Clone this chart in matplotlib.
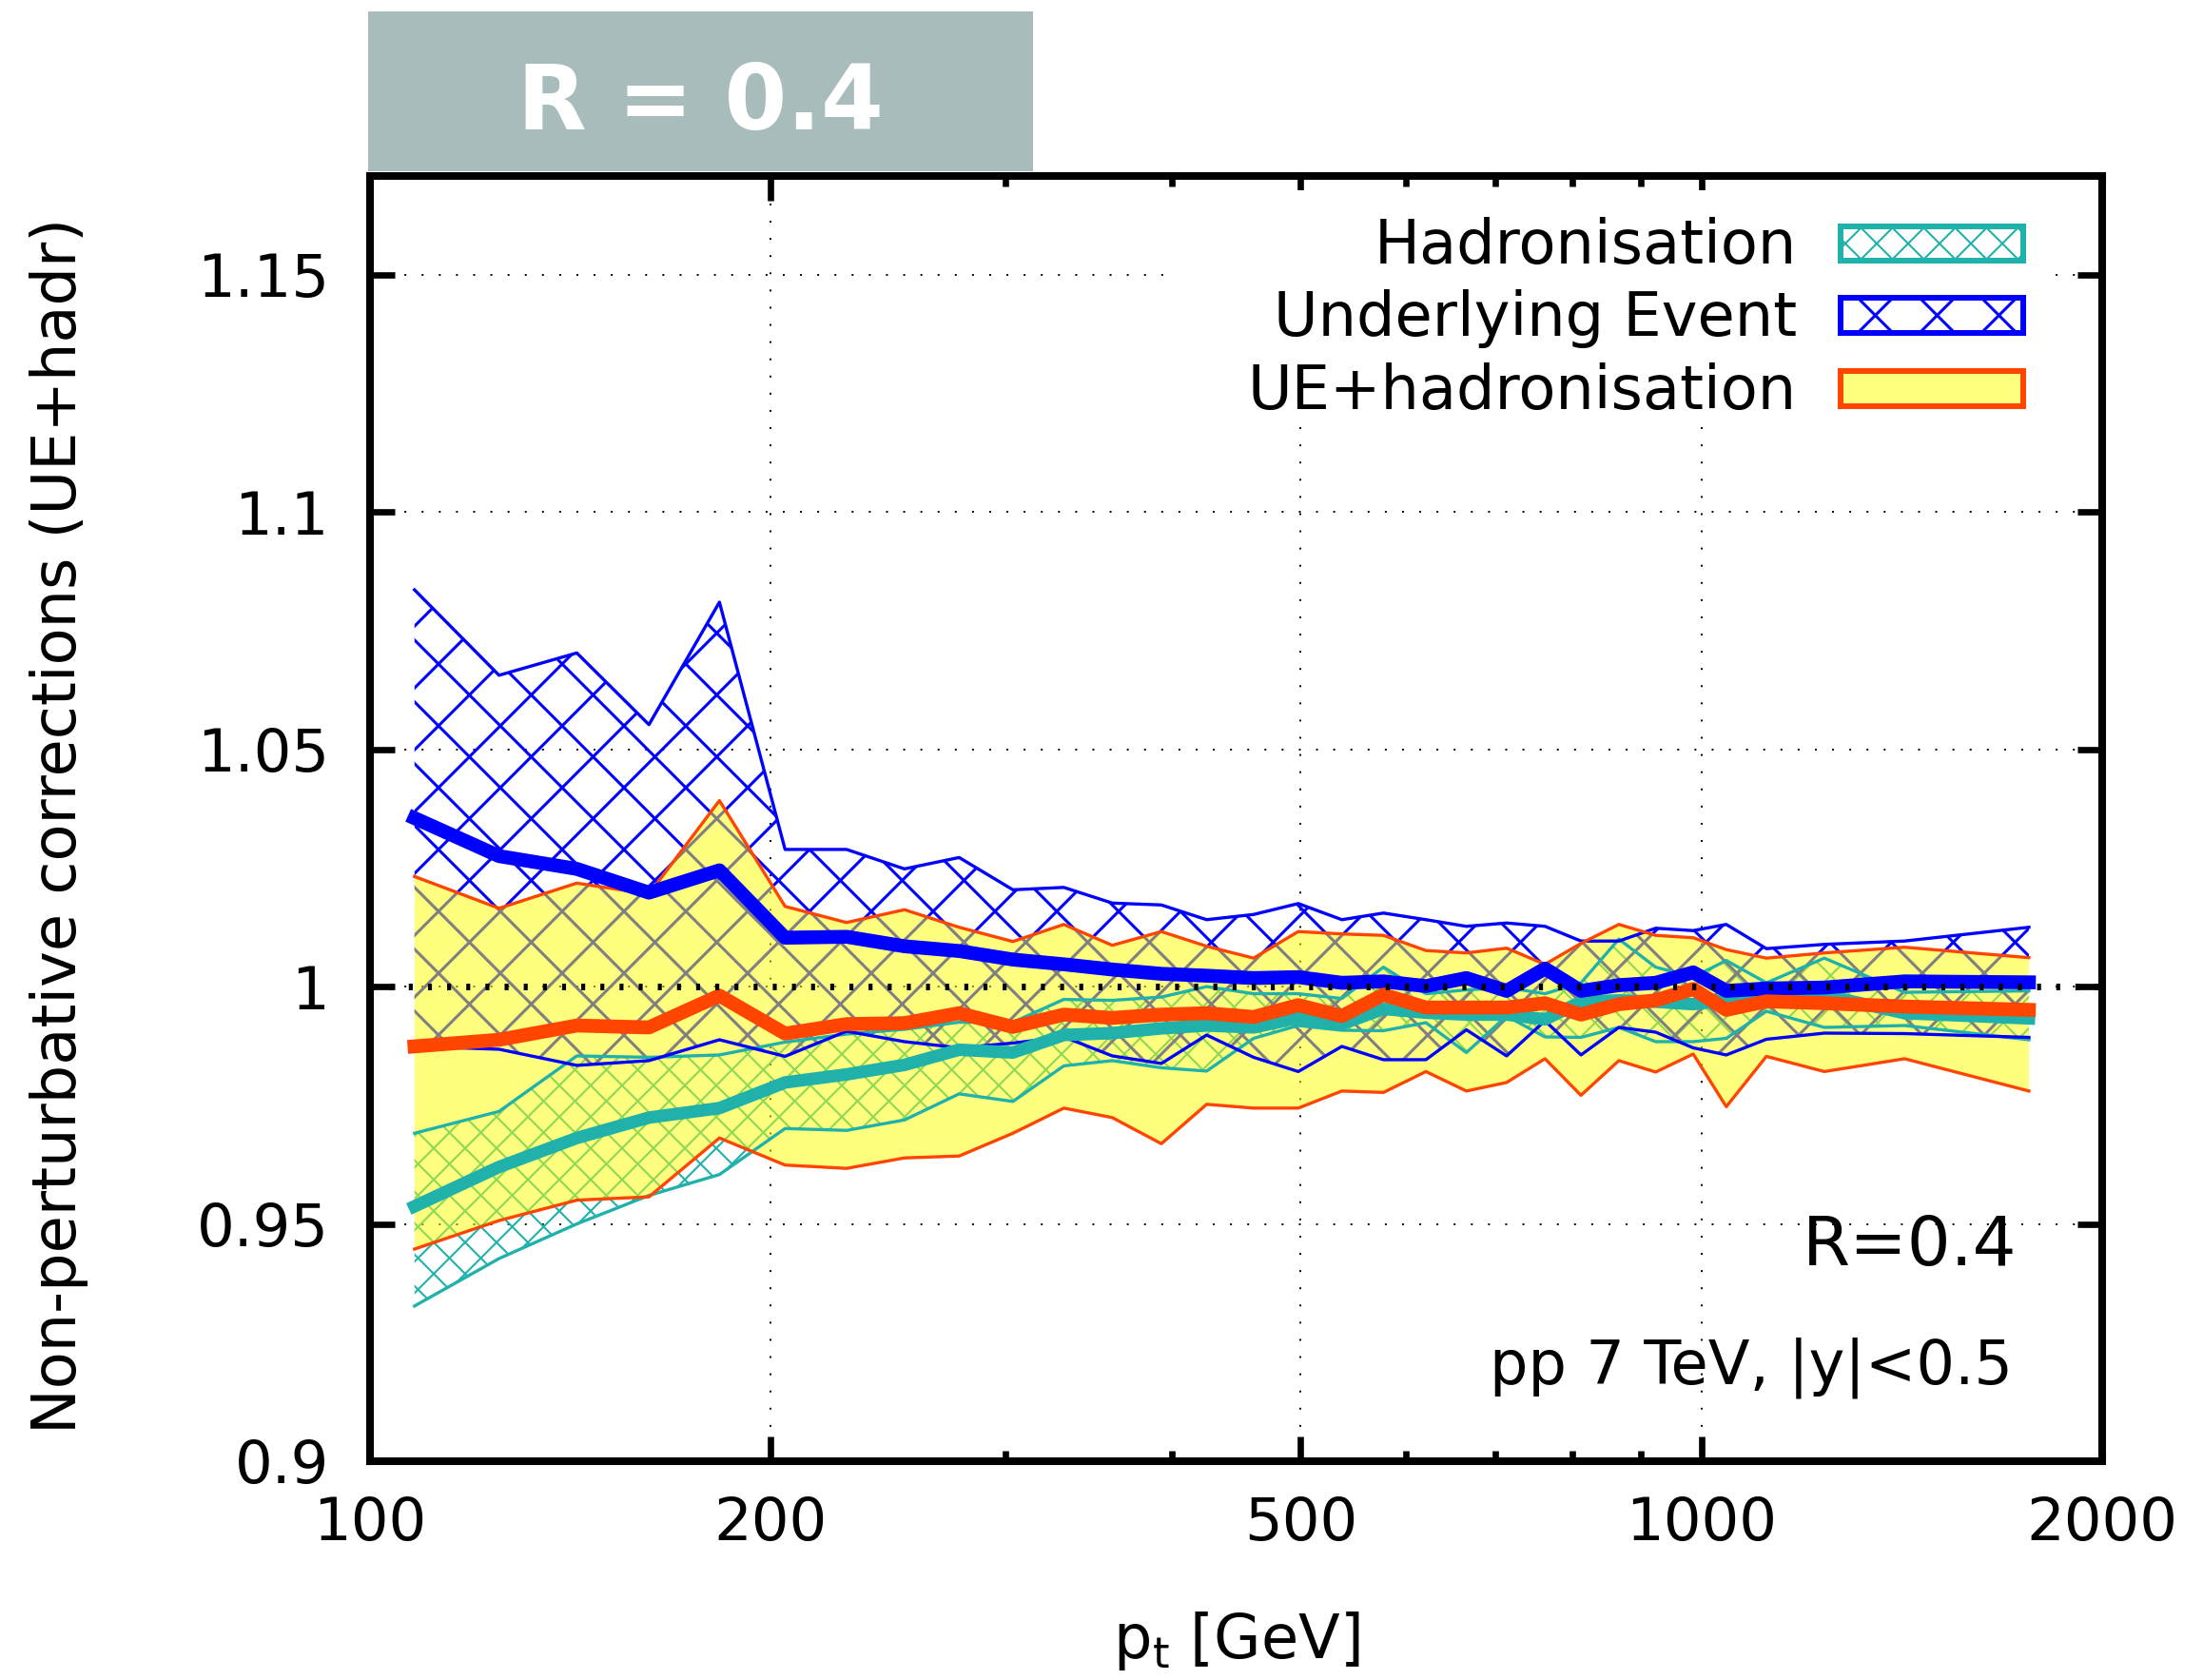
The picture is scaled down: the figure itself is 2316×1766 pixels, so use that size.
import numpy as np
import matplotlib
matplotlib.use('Agg')
import matplotlib.pyplot as plt
from matplotlib.collections import LineCollection
from matplotlib.patches import Rectangle
from matplotlib.transforms import IdentityTransform

# pt bins [GeV]
pt = [108, 125, 143, 162, 183, 205, 228, 252, 277, 304, 332, 361, 393, 425, 461, 498,
      537, 577, 621, 666, 714, 763, 812, 867, 924, 986, 1044, 1119, 1237, 1421, 1762]

# hadronisation correction
hadr_hi = [0.9691, 0.9737, 0.9854, 0.9851, 0.9856, 0.9883, 0.9900, 0.9910, 0.9925, 0.9925, 0.9973,
           0.9971, 0.9978, 1.0000, 0.9985, 0.9985, 0.9975, 1.0041, 0.9985, 0.9993, 0.9998, 0.9985,
           1.0008, 1.0100, 1.0041, 1.0020, 1.0055, 1.0008, 1.0060, 0.9988, 0.9991]
hadr_mid = [0.9537, 0.9620, 0.9681, 0.9724, 0.9744, 0.9798, 0.9815, 0.9835, 0.9867, 0.9861, 0.9898,
            0.9902, 0.9912, 0.9918, 0.9914, 0.9934, 0.9921, 0.9953, 0.9945, 0.9941, 0.9941, 0.9931,
            0.9968, 0.9971, 0.9968, 0.9963, 0.9971, 0.9985, 0.9982, 0.9944, 0.9933]
hadr_lo = [0.9327, 0.9427, 0.9500, 0.9560, 0.9604, 0.9701, 0.9697, 0.9719, 0.9774, 0.9758, 0.9833,
           0.9844, 0.9829, 0.9822, 0.9891, 0.9918, 0.9908, 0.9907, 0.9924, 0.9861, 0.9938, 0.9894,
           0.9893, 0.9914, 0.9884, 0.9884, 0.9891, 0.9948, 0.9914, 0.9918, 0.9888]

# underlying event correction
ue_hi = [1.0836, 1.0656, 1.0703, 1.0552, 1.0810, 1.0289, 1.0289, 1.0248, 1.0272, 1.0204, 1.0209,
         1.0176, 1.0172, 1.0141, 1.0152, 1.0175, 1.0141, 1.0155, 1.0141, 1.0127, 1.0134, 1.0127,
         1.0096, 1.0096, 1.0123, 1.0118, 1.0131, 1.0080, 1.0089, 1.0096, 1.0125]
ue_mid = [1.0355, 1.0275, 1.0248, 1.0198, 1.0245, 1.0103, 1.0105, 1.0085, 1.0075, 1.0057, 1.0047,
          1.0036, 1.0027, 1.0023, 1.0018, 1.0020, 1.0008, 1.0011, 1.0001, 1.0018, 0.9991, 1.0038,
          0.9991, 1.0003, 1.0008, 1.0030, 0.9991, 0.9996, 0.9998, 1.0011, 1.0009]
ue_lo = [0.9874, 0.9868, 0.9834, 0.9844, 0.9888, 0.9853, 0.9906, 0.9884, 0.9871, 0.9881, 0.9894,
         0.9854, 0.9838, 0.9898, 0.9851, 0.9821, 0.9874, 0.9846, 0.9846, 0.9909, 0.9854, 0.9928,
         0.9856, 0.9914, 0.9904, 0.9871, 0.9856, 0.9889, 0.9902, 0.9901, 0.9893]

# UE + hadronisation
tot_hi = [1.0232, 1.0165, 1.0218, 1.0195, 1.0392, 1.0169, 1.0135, 1.0162, 1.0125, 1.0095, 1.0131,
          1.0087, 1.0116, 1.0085, 1.0060, 1.0116, 1.0111, 1.0108, 1.0076, 1.0071, 1.0081, 1.0047,
          1.0091, 1.0131, 1.0108, 1.0103, 1.0078, 1.0060, 1.0071, 1.0083, 1.0061]
tot_mid = [0.9874, 0.9888, 0.9918, 0.9914, 0.9981, 0.9901, 0.9921, 0.9923, 0.9944, 0.9915, 0.9941,
           0.9934, 0.9941, 0.9944, 0.9936, 0.9961, 0.9938, 0.9983, 0.9956, 0.9956, 0.9956, 0.9965,
           0.9941, 0.9963, 0.9971, 0.9995, 0.9951, 0.9969, 0.9965, 0.9958, 0.9951]
tot_lo = [0.9447, 0.9507, 0.9550, 0.9557, 0.9681, 0.9624, 0.9617, 0.9639, 0.9643, 0.9691, 0.9744,
          0.9724, 0.9669, 0.9752, 0.9744, 0.9744, 0.9780, 0.9777, 0.9821, 0.9780, 0.9798, 0.9848,
          0.9771, 0.9844, 0.9820, 0.9858, 0.9747, 0.9853, 0.9821, 0.9848, 0.9780]

xticks = [100, 200, 500, 1000, 2000]
yticks = [0.9, 0.95, 1.0, 1.05, 1.1, 1.15]
ytick_labels = ['0.9', '0.95', '1', '1.05', '1.1', '1.15']
labels = ['Hadronisation', 'Underlying Event', 'UE+hadronisation']

TEAL = '#20b2aa'
BLUE = '#0000ff'
ORANGE = '#ff4500'

W, H = 2316, 1766
plt.rcParams['font.family'] = 'DejaVu Sans'
fig = plt.figure(figsize=(W / 100, H / 100), dpi=100)


def fx(px):
    return px / W


def fy(py):
    return 1 - py / H


ax = fig.add_axes([fx(389), fy(1536), 1821 / W, 1351 / H])


def crosshatch(parent, clip, box, spacing, color, lw, zorder):
    # diagonal cross hatch in pixel space, clipped to a patch or path
    x0, y0, x1, y1 = box
    h = y1 - y0
    segs = []
    for c in np.arange(x0 - h, x1 + spacing, spacing):
        segs.append([(c, y0), (c + h, y1)])
        segs.append([(c + h, y0), (c, y1)])
    lc = LineCollection(segs, colors=color, linewidths=lw, transform=IdentityTransform(),
                        zorder=zorder, capstyle='butt')
    if isinstance(clip, Rectangle):
        lc.set_clip_path(clip)
    else:
        lc.set_clip_path(clip.get_paths()[0], clip.get_transform())
    if parent is ax:
        ax.add_collection(lc, autolim=False)
    else:
        fig.add_artist(lc)
    return lc


ax.set_xscale('log')
ax.set_xlim(100, 2000)
ax.set_ylim(0.9, 1.1708)

axbox = (389, H - 1536, 2210, H - 185)

# hatched bands
band_h = ax.fill_between(pt, hadr_lo, hadr_hi, facecolor='none', edgecolor='none', lw=0)
crosshatch(ax, band_h, axbox, 33, TEAL, 1.5, 2)
band_u = ax.fill_between(pt, ue_lo, ue_hi, facecolor='none', edgecolor='none', lw=0)
crosshatch(ax, band_u, axbox, 65, BLUE, 2.2, 2)

# UE+hadr band, half transparent yellow on top of the hatches
ax.fill_between(pt, tot_lo, tot_hi, facecolor='yellow', alpha=0.5, edgecolor='none', lw=0, zorder=3)

# band edges
for lo, hi, col in [(hadr_lo, hadr_hi, TEAL), (ue_lo, ue_hi, BLUE), (tot_lo, tot_hi, ORANGE)]:
    ax.plot(pt, lo, color=col, lw=2.4, zorder=4)
    ax.plot(pt, hi, color=col, lw=2.4, zorder=4)

# central values
ax.plot(pt, hadr_mid, color=TEAL, lw=9.5, zorder=5)
ax.plot(pt, ue_mid, color=BLUE, lw=10.5, zorder=5)
ax.plot(pt, tot_mid, color=ORANGE, lw=10.5, zorder=5)

ax.axhline(1.0, color='black', lw=5, linestyle=(0, (0.6, 2.3)), zorder=6)

# grid, ticks, spines
ax.set_axisbelow(True)
ax.grid(True, which='major', color='black', lw=1.4, linestyle=(0, (1, 8.3)))
ax.set_xticks(xticks)
ax.set_xticklabels([str(t) for t in xticks])
ax.set_yticks(yticks)
ax.set_yticklabels(ytick_labels)
ax.tick_params(which='both', direction='in', top=True, right=True, width=4.8, labelsize=45)
ax.tick_params(which='major', length=19)
ax.tick_params(which='minor', length=8)
ax.tick_params(axis='y', pad=31)
ax.tick_params(axis='x', pad=26)
ax.xaxis.set_minor_formatter(matplotlib.ticker.NullFormatter())
for s in ax.spines.values():
    s.set_linewidth(5.8)
    s.set_zorder(7)

# white legend background over the grid
ax.add_patch(Rectangle((fx(1233), fy(445)), fx(2150) - fx(1233), fy(200) - fy(445),
                       transform=fig.transFigure, facecolor='white', edgecolor='none', zorder=1))

# legend
rows = [(238, 274), (313, 350), (389.5, 426.5)]
for i, (lab, (top, bot)) in enumerate(zip(labels, rows)):
    fig.text(fx(1889), fy(bot + 3.5), lab, ha='right', va='baseline', fontsize=46)
    if i == 0:
        face, edge, sp, hl, hc = 'white', TEAL, 33, 1.5, TEAL
    elif i == 1:
        face, edge, sp, hl, hc = 'white', BLUE, 65, 2.2, BLUE
    else:
        face, edge, sp, hl, hc = '#ffff80', ORANGE, None, 0, None
    rect = Rectangle((fx(1934.5), fy(bot)), fx(2126.5) - fx(1934.5), fy(top) - fy(bot),
                     transform=fig.transFigure, facecolor=face, edgecolor=edge, lw=4.3, zorder=10)
    fig.add_artist(rect)
    if sp:
        crosshatch(fig, rect, (1930, H - bot - 5, 2130, H - top + 5), sp, hc, hl, 11)
        edge_rect = Rectangle((fx(1934.5), fy(bot)), fx(2126.5) - fx(1934.5), fy(top) - fy(bot),
                              transform=fig.transFigure, facecolor='none', edgecolor=edge,
                              lw=4.3, zorder=12)
        fig.add_artist(edge_rect)

# annotations
fig.text(fx(2120), fy(1330), 'R=0.4', ha='right', va='baseline', fontsize=52)
fig.text(fx(2116), fy(1454), 'pp 7 TeV, |y|<0.5', ha='right', va='baseline', fontsize=46)

# axis labels
fig.text(fx(1300), fy(1725), r'p$_{\rm t}$ [GeV]', ha='center', va='center', fontsize=46)
fig.text(fx(62), fy(868), 'Non-perturbative corrections (UE+hadr)', rotation=90,
         ha='center', va='center', fontsize=46)

# title box
fig.add_artist(Rectangle((fx(387), fy(180)), fx(1086) - fx(387), fy(12) - fy(180),
                         transform=fig.transFigure, facecolor='#a8bcbc', edgecolor='none'))
fig.text(fx(736), fy(136), 'R = 0.4', ha='center', va='baseline', fontsize=68,
         fontweight='bold', color='white')

fig.savefig('out.png', dpi=100)
